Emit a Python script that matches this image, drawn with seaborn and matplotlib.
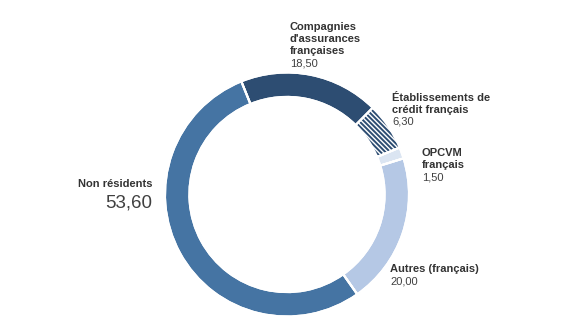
import matplotlib
matplotlib.use("Agg")
import matplotlib.pyplot as plt
import seaborn as sns

# Data (clockwise order starting from top-left)
categories = ["Compagnies\nd'assurances\nfrançaises", "Établissements de\ncrédit français",
              "OPCVM\nfrançais", "Autres (français)", "Non résidents"]
values = [18.50, 6.30, 1.50, 20.00, 53.60]
value_labels = ["18,50", "6,30", "1,50", "20,00", "53,60"]
colors = ["#2d4d72", "#ffffff", "#dbe5f2", "#b5c8e5", "#4574a3"]
hatches = [None, "\\" * 7, None, None, None]

sns.set_theme(style="white")
plt.rcParams['font.family'] = ['Liberation Sans', 'DejaVu Sans']

W, H = 567, 333
fig = plt.figure(figsize=(W / 100, H / 100), dpi=100)
cx, cy, r = 287, 194.5, 122
ax = fig.add_axes([(cx - r) / W, (H - cy - r) / H, 2 * r / W, 2 * r / H])
ax.axis("off")

plt.rcParams['hatch.color'] = "#2d4d72"
plt.rcParams['hatch.linewidth'] = 1.4
wedges, _ = ax.pie(values, colors=colors, startangle=112, counterclock=False,
                   radius=1.0, wedgeprops=dict(width=0.2, edgecolor="white", linewidth=1.5))
for w, h in zip(wedges, hatches):
    if h:
        w.set_hatch(h)
        w.set_edgecolor("#2d4d72")
        w.set_linewidth(0)
# white separators on top
ax.pie(values, colors=["none"] * len(values), startangle=112, counterclock=False,
       radius=1.0, wedgeprops=dict(width=0.2, edgecolor="white", linewidth=1.5, fill=False))
ax.set_xlim(-1, 1)
ax.set_ylim(-1, 1)
ax.set_aspect("equal")


def txt(x, y, s, **kw):
    fig.text(x / W, 1 - y / H, s, va="baseline", **kw)


lab_col = "#333333"
val_col = "#404040"
fs = 8

# Compagnies
for i, line in enumerate(categories[0].split("\n")):
    txt(290, 30 + 12 * i, line, fontsize=fs, fontweight="bold", color=lab_col)
txt(290, 66, value_labels[0], fontsize=fs, color=val_col)

# Établissements
for i, line in enumerate(categories[1].split("\n")):
    txt(392, 101 + 12 * i, line, fontsize=fs, fontweight="bold", color=lab_col)
txt(392, 125, value_labels[1], fontsize=fs, color=val_col)

# OPCVM
for i, line in enumerate(categories[2].split("\n")):
    txt(422, 156 + 12 * i, line, fontsize=fs, fontweight="bold", color=lab_col)
txt(422, 180, value_labels[2], fontsize=fs, color=val_col)

# Autres
txt(390, 272, categories[3], fontsize=fs, fontweight="bold", color=lab_col)
txt(390, 284, value_labels[3], fontsize=fs, color=val_col)

# Non résidents
txt(152, 187, categories[4], fontsize=fs, fontweight="bold", color=lab_col, ha="right")
txt(152, 207, value_labels[4], fontsize=13.5, color=val_col, ha="right")

fig.savefig("out.png", dpi=100)
